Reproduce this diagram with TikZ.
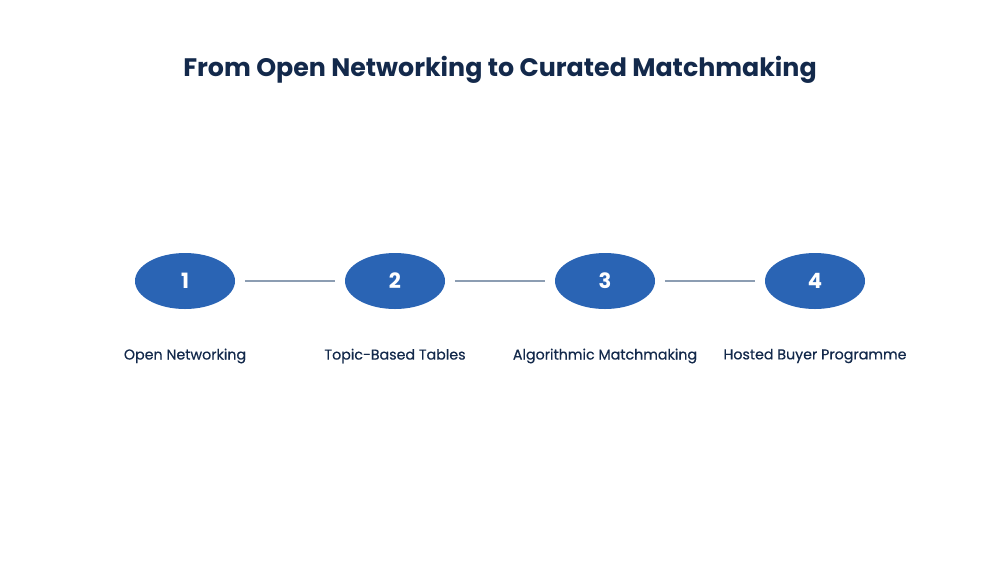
\documentclass[tikz,border=0pt]{standalone}
\usepackage{fontspec}
\setmainfont{Poppins}
\newfontfamily\labelfont[FakeBold=0.5]{Poppins}
\usetikzlibrary{positioning,shapes.geometric}
\definecolor{stepblue}{HTML}{2A64B4}
\definecolor{navy}{HTML}{13294B}
\definecolor{linkgray}{HTML}{8C9DB2}

\begin{document}
\begin{tikzpicture}[x=0.2mm, y=-0.2mm,
  stage/.style={ellipse, fill=stepblue, minimum width=2cm, minimum height=1.12cm, inner sep=0pt,
    text=white, font=\fontsize{12}{14}\selectfont\bfseries},
  caption/.style={text=navy, font=\fontsize{8.1}{10}\selectfont\labelfont},
  link/.style={draw=linkgray, line width=1.4pt, shorten <=0.19cm, shorten >=0.19cm}
]
\useasboundingbox (0,0) rectangle (1000,563);
\node[text=navy, font=\fontsize{14.4}{18}\selectfont\bfseries] (title) at (500,70) {From Open Networking to Curated Matchmaking};

\node[stage] (s1) at (185,281) {1};
\node[stage] (s2) at (395,281) {2};
\node[stage] (s3) at (605,281) {3};
\node[stage] (s4) at (815,281) {4};

\draw[link] (s1) -- (s2);
\draw[link] (s2) -- (s3);
\draw[link] (s3) -- (s4);

\node[caption] (c1) at (185,356) {Open Networking};
\node[caption] (c2) at (395,356) {Topic-Based Tables};
\node[caption] (c3) at (605,356) {Algorithmic Matchmaking};
\node[caption] (c4) at (815,356) {Hosted Buyer Programme};
\end{tikzpicture}
\end{document}
